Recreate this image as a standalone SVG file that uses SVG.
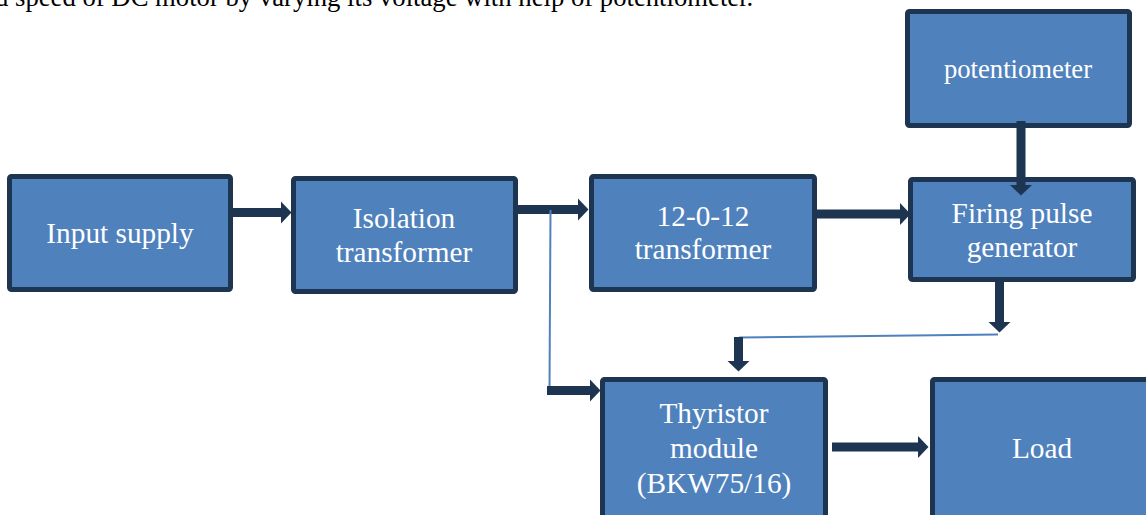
<svg xmlns="http://www.w3.org/2000/svg" width="1146" height="515" viewBox="0 0 1146 515">
<style>
.box{fill:#4F81BD;stroke:#1D3551;stroke-width:5}
.lbl{font-family:"Liberation Serif","Times New Roman",serif;font-size:29.3px;fill:#FFFFFF;text-anchor:middle}
.sm{font-size:26.7px}
.thick{stroke:#1D3551;stroke-width:9;fill:none;marker-end:url(#ah)}
.thin{stroke:#4F81BD;stroke-width:2;fill:none}
.cap{font-family:"Liberation Serif","Times New Roman",serif;font-size:26.7px;fill:#000000}
</style>
<defs>
<marker id="ah" markerUnits="userSpaceOnUse" markerWidth="11" markerHeight="22" refX="0" refY="11" orient="auto" overflow="visible">
<path d="M0,0 L10.5,11 L0,22 Z" fill="#1D3551"/>
</marker>
</defs>
<rect width="1146" height="515" fill="#FFFFFF"/>
<text class="cap" x="-5" y="6">d speed of DC motor by varying its voltage with help of potentiometer.</text>
<g id="input-supply">
<rect class="box" x="9.5" y="176.5" width="221" height="113" rx="2"/>
<text class="lbl" x="120" y="243">Input supply</text>
</g>
<g id="isolation-transformer">
<rect class="box" x="293.5" y="178.5" width="222" height="113" rx="2"/>
<text class="lbl" x="404" y="228">Isolation</text>
<text class="lbl" x="404" y="262">transformer</text>
</g>
<g id="transformer-12-0-12">
<rect class="box" x="591.5" y="176.5" width="223" height="113" rx="2"/>
<text class="lbl" x="703" y="226">12-0-12</text>
<text class="lbl" x="703" y="259">transformer</text>
</g>
<g id="potentiometer">
<rect class="box" x="907.5" y="11.5" width="222" height="114" rx="2"/>
<text class="lbl sm" x="1018" y="78">potentiometer</text>
</g>
<g id="firing-pulse-generator">
<rect class="box" x="910.5" y="179.5" width="223" height="100" rx="2"/>
<text class="lbl" x="1022" y="222.5">Firing pulse</text>
<text class="lbl" x="1022" y="256.5">generator</text>
</g>
<g id="thyristor-module">
<rect class="box" x="602.5" y="379.5" width="223" height="160" rx="2"/>
<text class="lbl" x="714" y="423">Thyristor</text>
<text class="lbl" x="714" y="458">module</text>
<text class="lbl" x="714" y="493">(BKW75/16)</text>
</g>
<g id="load">
<rect class="box" x="932.5" y="379.5" width="230" height="160" rx="2"/>
<text class="lbl" x="1042" y="458">Load</text>
</g>
<g id="connectors">
<line class="thick" x1="233" y1="212.5" x2="281" y2="212.5"/>
<line class="thick" x1="518" y1="209.5" x2="578" y2="209.5"/>
<line class="thick" x1="817" y1="214" x2="900" y2="214"/>
<line class="thick" x1="1021" y1="121" x2="1021" y2="185"/>
<line class="thick" x1="999.5" y1="282" x2="999.5" y2="322"/>
<line class="thin" x1="998" y1="334.5" x2="739" y2="337.5"/>
<line class="thick" x1="738.5" y1="337" x2="738.5" y2="361"/>
<line class="thin" x1="550.5" y1="210" x2="549.5" y2="388"/>
<line class="thick" x1="547" y1="390.5" x2="590" y2="390.5"/>
<line class="thick" x1="832" y1="447" x2="918" y2="447"/>
</g>
</svg>
